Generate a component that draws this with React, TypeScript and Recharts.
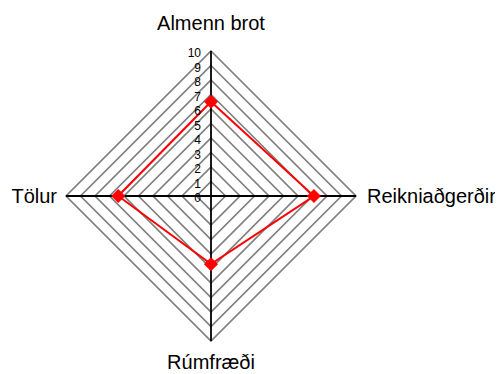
import React from "react";
import {
  RadarChart,
  Radar,
  PolarGrid,
  PolarAngleAxis,
  PolarRadiusAxis,
} from "recharts";

const categories = ["Almenn brot", "Reikniaðgerðir", "Rúmfræði", "Tölur"];
const scores = [6.5, 7.1, 4.7, 6.4];
const radiusTicks = [0, 1, 2, 3, 4, 5, 6, 7, 8, 9, 10];

const data = categories.map((name, i) => ({ name, score: scores[i] }));

const CX = 203;
const CY = 188;
const FONT = "'Liberation Sans', Arial, Helvetica, sans-serif";

const AngleTick = (props: any) => {
  const { x, y, payload } = props;
  const dx = x - CX;
  const dy = y - CY;
  let anchor: "start" | "middle" | "end" = "middle";
  let tx = x;
  let ty = y;
  if (Math.abs(dx) > Math.abs(dy)) {
    anchor = dx > 0 ? "start" : "end";
    tx = dx > 0 ? x + 3 : x - 1;
    ty = y + 7;
  } else if (dy < 0) {
    ty = y - 13;
  } else {
    ty = y + 20;
  }
  return (
    <text x={tx} y={ty} textAnchor={anchor} fontSize={20} fontFamily={FONT} fill="#000">
      {payload.value}
    </text>
  );
};

const RadiusTick = (props: any) => {
  const { x, y, payload } = props;
  return (
    <text x={x - 10} y={y + 6} textAnchor="end" fontSize={12} fontFamily={FONT} fill="#000">
      {payload.value}
    </text>
  );
};

const DiamondDot = (props: any) => {
  const { cx, cy } = props;
  const s = 6.5;
  return (
    <polygon
      points={`${cx},${cy - s} ${cx + s},${cy} ${cx},${cy + s} ${cx - s},${cy}`}
      fill="#ff0000"
      stroke="#ff0000"
    />
  );
};

export default function App() {
  return (
    <div style={{ width: 495, height: 366 }}>
      <RadarChart
        width={495}
        height={366}
        data={data}
        cx={CX}
        cy={CY}
        outerRadius={145}
        margin={{ top: 0, right: 0, bottom: 0, left: 0 }}
        style={{ overflow: "visible" }}
      >
        <PolarGrid gridType="polygon" radialLines={false} stroke="#7f7f7f" strokeWidth={1.7} />
        <PolarGrid gridType="polygon" polarRadius={[]} stroke="#000" strokeWidth={1.8} />
        <PolarAngleAxis dataKey="name" tick={<AngleTick />} tickLine={false} axisLine={false} />
        <PolarRadiusAxis
          angle={90}
          domain={[0, 10]}
          ticks={radiusTicks}
          tickCount={11}
          axisLine={false}
          tick={<RadiusTick />}
        />
        <Radar
          dataKey="score"
          stroke="#ff0000"
          strokeWidth={2}
          fill="none"
          fillOpacity={0}
          dot={<DiamondDot />}
          isAnimationActive={false}
        />
      </RadarChart>
    </div>
  );
}
